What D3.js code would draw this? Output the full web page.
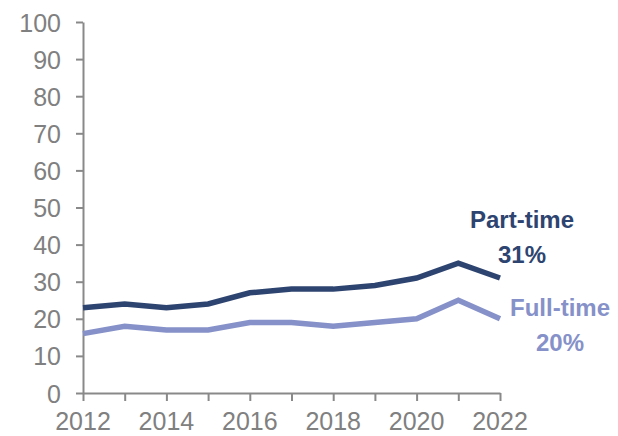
<!DOCTYPE html>
<html>
<head>
<meta charset="utf-8">
<script src="https://cdn.jsdelivr.net/npm/d3@7"></script>
<style>
  body { margin: 0; background: #fff; }
  text { font-family: "Liberation Sans", Arial, sans-serif; }
</style>
</head>
<body>
<div id="chart"></div>
<script>
var years = [2012, 2013, 2014, 2015, 2016, 2017, 2018, 2019, 2020, 2021, 2022];
var partTime = [23, 24, 23, 24, 27, 28, 28, 29, 31, 35, 31];
var fullTime = [16, 18, 17, 17, 19, 19, 18, 19, 20, 25, 20];
var yTicks = [0, 10, 20, 30, 40, 50, 60, 70, 80, 90, 100];
var xLabels = [2012, 2014, 2016, 2018, 2020, 2022];

var width = 618, height = 436;
var margin = {top: 22, right: 118, bottom: 43, left: 83};

var svg = d3.select("#chart").append("svg")
    .attr("width", width)
    .attr("height", height);

var x = d3.scaleLinear()
    .domain([2012, 2022])
    .range([margin.left, width - margin.right]);

var y = d3.scaleLinear()
    .domain([0, 100])
    .range([height - margin.bottom, margin.top]);

var axisColor = "#898989";
var labelColor = "#808080";

// y axis
var yAxis = svg.append("g")
    .attr("transform", "translate(" + margin.left + ",0)")
    .call(d3.axisLeft(y).tickValues(yTicks).tickSize(7).tickPadding(15).tickSizeOuter(0));
yAxis.select(".domain").attr("stroke", axisColor).attr("stroke-width", 2);
yAxis.selectAll(".tick line").attr("stroke", axisColor).attr("stroke-width", 2);
yAxis.selectAll(".tick text")
    .attr("fill", labelColor)
    .attr("dy", "0.36em")
    .style("font-size", "25px");

// x axis
var xAxis = svg.append("g")
    .attr("transform", "translate(0," + y(0) + ")")
    .call(d3.axisBottom(x).tickValues(years).tickSize(8).tickSizeOuter(0).tickFormat(""));
xAxis.select(".domain").attr("stroke", axisColor).attr("stroke-width", 2);
xAxis.selectAll(".tick line").attr("stroke", axisColor).attr("stroke-width", 2);

svg.append("g").selectAll("text")
    .data(xLabels)
    .enter().append("text")
    .attr("x", function (d) { return x(d); })
    .attr("y", y(0) + 37)
    .attr("text-anchor", "middle")
    .attr("fill", labelColor)
    .style("font-size", "25px")
    .text(function (d) { return d; });

var line = d3.line()
    .x(function (d, i) { return x(years[i]); })
    .y(function (d) { return y(d); });

svg.append("path")
    .datum(fullTime)
    .attr("fill", "none")
    .attr("stroke", "#8591c8")
    .attr("stroke-width", 5.5)
    .attr("stroke-linejoin", "miter")
    .attr("d", line);

svg.append("path")
    .datum(partTime)
    .attr("fill", "none")
    .attr("stroke", "#2e4470")
    .attr("stroke-width", 5.5)
    .attr("stroke-linejoin", "miter")
    .attr("d", line);

// end labels
function endLabel(cx, y1, lines, color) {
    var t = svg.append("text")
        .attr("text-anchor", "middle")
        .attr("fill", color)
        .style("font-size", "24px")
        .style("font-weight", "bold");
    lines.forEach(function (s, i) {
        t.append("tspan").attr("x", cx).attr("y", y1 + i * 35).text(s);
    });
}
endLabel(522, 228, ["Part-time", partTime[partTime.length - 1] + "%"], "#2e4470");
endLabel(560, 316, ["Full-time", fullTime[fullTime.length - 1] + "%"], "#8591c8");
</script>
</body>
</html>
